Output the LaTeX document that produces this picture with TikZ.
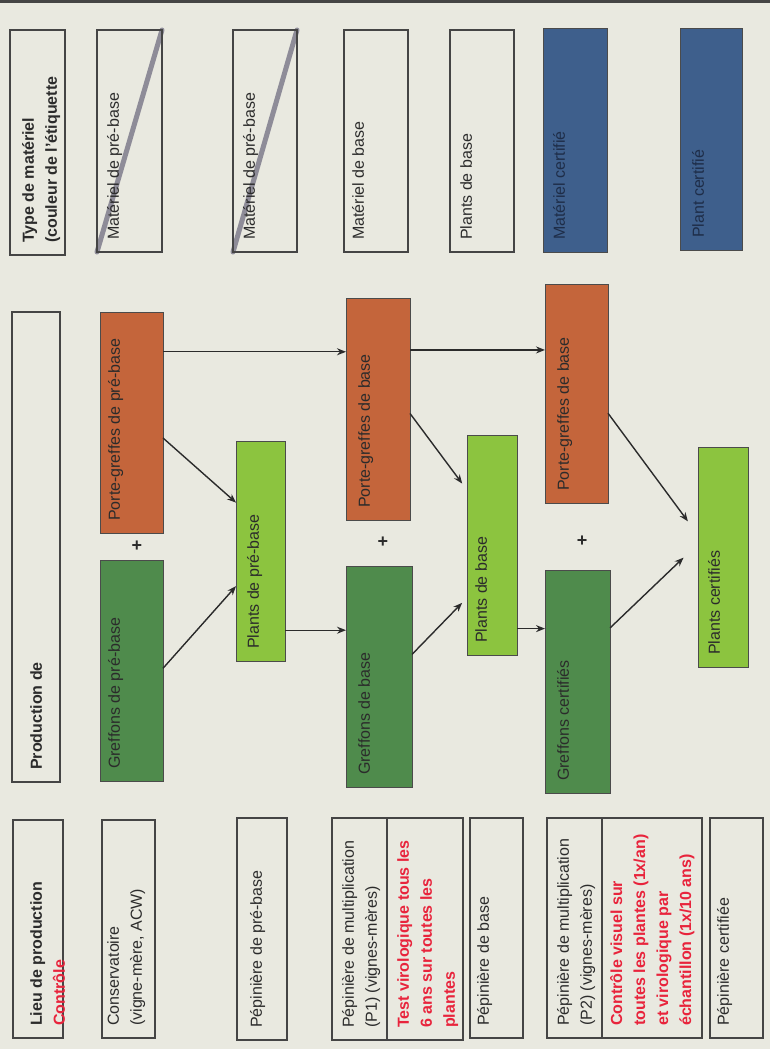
\documentclass[tikz,border=0pt]{standalone}
\usepackage{fontspec}
\setmainfont{Liberation Sans}
\usepackage{xcolor}
\usepackage{tikz}
\usetikzlibrary{arrows.meta,calc,fit,backgrounds}
\setlength{\parindent}{0pt}
\definecolor{paper}{HTML}{E9E9E0}
\definecolor{frame}{HTML}{454545}
\definecolor{ink}{HTML}{2B2B2B}
\definecolor{alert}{HTML}{E8243C}
\definecolor{rootstock}{HTML}{C4653B}
\definecolor{scion}{HTML}{4F8B4C}
\definecolor{plant}{HTML}{8CC43F}
\definecolor{certif}{HTML}{3E5F8C}
\definecolor{navy}{HTML}{1E2D48}
\definecolor{strike}{HTML}{8E8C98}
\tikzset{
  tag/.style={draw=frame, line width=1.2pt, inner sep=0pt, outer sep=0pt},
  tagc/.style={draw=ink!85, line width=0.8pt, fill=#1, inner sep=0pt, outer sep=0pt},
  lbl/.style={rotate=90, anchor=north west, inner sep=0pt, align=left, text=ink,
    font=\fontsize{16}{23}\selectfont},
  lblb/.style={lbl, font=\fontsize{16}{23}\selectfont\bfseries},
  lblr/.style={lblb, text=alert},
  lbln/.style={lbl, text=navy},
  arr/.style={-{Stealth[length=9pt,width=7pt]}, line width=1.4pt, draw=ink},
  plus/.style={inner sep=0pt, font=\fontsize{18}{18}\selectfont\bfseries, text=ink},
  cross/.style={draw=strike, line width=5pt, line cap=round}
}
\newcommand{\Etiq}[6]{% box style, label style, name, corners, dx, text
  \node[#1, fit={#4}] (#3) {};
  \node[#2] (#3-t) at ($(#3.south west)+(#5,-12)$) {#6};
}

\begin{document}
\begin{tikzpicture}[x=1pt, y=-1pt]
  \useasboundingbox (0,0) rectangle (770,1049);
  \begin{scope}[on background layer]
    \fill[paper] (0,0) rectangle (770,1049);
  \end{scope}
  \draw[line width=3pt, draw=frame] (0,1.5) -- (770,1.5);

  % type de materiel (couleur de l'etiquette)
  \Etiq{tag}{lblb}{typ}{(10,30) (65,255)}{12}{Type de matériel\\(couleur de l'étiquette}
  \Etiq{tag}{lbl}{mpb1}{(97,30) (162,252)}{10}{Matériel de pré-base}
  \Etiq{tag}{lbl}{mpb2}{(233,30) (297,252)}{10}{Matériel de pré-base}
  \Etiq{tag}{lbl}{mb}{(344,30) (408,252)}{8}{Matériel de base}
  \Etiq{tag}{lbl}{pb}{(450,30) (514,252)}{10}{Plants de base}
  \Etiq{tagc=certif}{lbln}{mc}{(543,28) (607,252)}{10}{Matériel certifié}
  \Etiq{tagc=certif}{lbln}{pc}{(680,28) (742,250)}{12}{Plant certifié}
  \begin{scope}[on background layer]
    \draw[cross] (mpb1.south west) -- (mpb1.north east);
    \draw[cross] (mpb2.south west) -- (mpb2.north east);
  \end{scope}

  % production
  \Etiq{tag}{lblb}{prod}{(12,312) (60,782)}{18}{Production de}
  \Etiq{tagc=rootstock}{lbl}{pgpb}{(100,312) (163,533)}{8}{Porte-greffes de pré-base}
  \Etiq{tagc=scion}{lbl}{gpb}{(100,560) (163,781)}{8}{Greffons de pré-base}
  \Etiq{tagc=plant}{lbl}{ppb}{(236,441) (285,661)}{11}{Plants de pré-base}
  \Etiq{tagc=rootstock}{lbl}{pgb}{(346,298) (410,520)}{12}{Porte-greffes de base}
  \Etiq{tagc=scion}{lbl}{gb}{(346,566) (412,787)}{12}{Greffons de base}
  \Etiq{tagc=plant}{lbl}{plb}{(467,435) (517,655)}{8}{Plants de base}
  \Etiq{tagc=rootstock}{lbl}{pgc}{(545,284) (608,503)}{12}{Porte-greffes de base}
  \Etiq{tagc=scion}{lbl}{gc}{(545,570) (610,793)}{12}{Greffons certifiés}
  \Etiq{tagc=plant}{lbl}{plc}{(698,447) (748,667)}{10}{Plants certifiés}
  \node[plus] (plus1) at (137,546) {+};
  \node[plus] (plus2) at (383,542) {+};
  \node[plus] (plus3) at (582,541) {+};

  \draw[arr] ($(pgpb.north east)!0.18!(pgpb.south east)$) coordinate (a1) -- (a1 -| pgb.west);
  \draw[arr] ($(pgpb.north east)!0.57!(pgpb.south east)$) -- ($(ppb.north west)!0.28!(ppb.south west)$);
  \draw[arr] ($(gpb.north east)!0.49!(gpb.south east)$) -- ($(ppb.north west)!0.66!(ppb.south west)$);
  \draw[arr] ($(ppb.north east)!0.86!(ppb.south east)$) coordinate (a4) -- (a4 -| gb.west);
  \draw[arr] ($(pgb.north east)!0.234!(pgb.south east)$) coordinate (a5) -- (a5 -| pgc.west);
  \draw[arr, shorten >=8pt] ($(pgb.north east)!0.52!(pgb.south east)$) -- ($(plb.north west)!0.25!(plb.south west)$);
  \draw[arr, shorten >=7pt] ($(gb.north east)!0.40!(gb.south east)$) -- ($(plb.north west)!0.74!(plb.south west)$);
  \draw[arr] ($(plb.north east)!0.88!(plb.south east)$) coordinate (a8) -- (a8 -| gc.west);
  \draw[arr, shorten >=17pt] ($(pgc.north east)!0.59!(pgc.south east)$) -- ($(plc.north west)!0.40!(plc.south west)$);
  \draw[arr, shorten >=20pt] ($(gc.north east)!0.26!(gc.south east)$) -- ($(plc.north west)!0.44!(plc.south west)$);

  % lieu de production / controle
  \Etiq{tag}{lblb}{lieu}{(13,820) (63,1038)}{17}{Lieu de production\\{\color{alert}Contrôle}}
  \Etiq{tag}{lbl}{cons}{(102,820) (155,1038)}{5}{Conservatoire\\(vigne-mère, ACW)}
  \Etiq{tag}{lbl}{ppbl}{(237,818) (287,1040)}{13}{Pépinière de pré-base}
  \Etiq{tag}{lbl}{pm1}{(332,818) (387,1040)}{10}{Pépinière de multiplication\\(P1) (vignes-mères)}
  \Etiq{tag}{lblr}{ctl1}{(387,818) (463,1040)}{10}{Test virologique tous les\\6 ans sur toutes les\\plantes}
  \Etiq{tag}{lbl}{pbl}{(470,818) (523,1038)}{7}{Pépinière de base}
  \Etiq{tag}{lbl}{pm2}{(547,818) (602,1038)}{10}{Pépinière de multiplication\\(P2) (vignes-mères)}
  \Etiq{tag}{lblr}{ctl2}{(602,818) (702,1038)}{8}{Contrôle visuel sur\\toutes les plantes (1x/an)\\et virologique par\\échantillon (1x/10 ans)}
  \Etiq{tag}{lbl}{pcl}{(710,818) (763,1038)}{7}{Pépinière certifiée}
\end{tikzpicture}
\end{document}
